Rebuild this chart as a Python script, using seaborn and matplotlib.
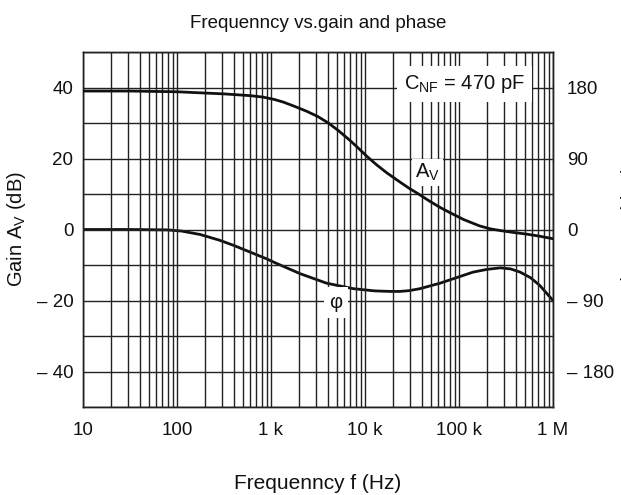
import numpy as np
import pandas as pd
import matplotlib
matplotlib.use("Agg")
import matplotlib.pyplot as plt
import matplotlib.ticker as mticker
import seaborn as sns

# ---- data (log10 of frequency in Hz) ----
gain_logf = [1.0, 1.5, 2.0, 2.245, 2.5, 2.78, 2.915, 3.04, 3.13, 3.25, 3.38,
             3.50, 3.61, 3.72, 3.84, 3.93, 4.02, 4.12, 4.23, 4.37, 4.47, 4.57,
             4.68, 4.80, 4.90, 5.05, 5.22, 5.33, 5.44, 5.57, 5.72, 5.86, 6.0]
gain_db = [39.0, 39.0, 38.8, 38.5, 38.2, 37.7, 37.3, 36.6, 35.9, 34.7, 33.3,
           31.8, 30.0, 27.8, 25.1, 22.9, 20.6, 18.3, 16.0, 13.4, 11.6, 10.0,
           8.1, 6.2, 4.8, 2.8, 1.0, 0.2, -0.3, -0.8, -1.3, -1.9, -2.6]

phase_logf = [1.0, 1.5, 1.9, 2.05, 2.245, 2.45, 2.60, 2.95, 3.04, 3.31, 3.59,
              3.875, 4.10, 4.27, 4.37, 4.47, 4.585, 4.80, 4.90, 5.15, 5.30,
              5.44, 5.55, 5.65, 5.76, 5.86, 6.0]
phase_deg = [0.0, 0.0, -0.5, -2.0, -6.3, -13.5, -20.0, -37.0, -42.0, -56.0, -68.0,
             -75.0, -77.8, -78.5, -78.5, -77.5, -75.0, -68.0, -64.0, -54.0, -50.5,
             -48.6, -50.0, -54.0, -61.0, -71.0, -90.0]

x_ticks = [10, 100, 1e3, 1e4, 1e5, 1e6]
x_tick_labels = ["10", "100", "1 k", "10 k", "100 k", "1 M"]
gain_ticks = [-40, -20, 0, 20, 40]
gain_tick_labels = ["\u2013 40", "\u2013 20", "0", "20", "40"]
phase_ticks = [-180, -90, 0, 90, 180]
phase_tick_labels = ["\u2013 180", "\u2013 90", "0", "90", "180"]

gain_df = pd.DataFrame({"f": np.power(10.0, gain_logf), "gain": gain_db})
phase_df = pd.DataFrame({"f": np.power(10.0, phase_logf), "phase": phase_deg})

sns.set_theme(style="white")
plt.rcParams["font.family"] = ["Liberation Sans", "DejaVu Sans"]
plt.rcParams["mathtext.fontset"] = "custom"
plt.rcParams["mathtext.rm"] = "Liberation Sans"

fig = plt.figure(figsize=(6.21, 4.95), dpi=100)
ax = fig.add_axes([83 / 621, 1 - 407 / 495, 470 / 621, 355 / 495])
ax2 = ax.twinx()

ink = "#111111"

sns.lineplot(data=gain_df, x="f", y="gain", ax=ax, color=ink, lw=2.0, zorder=5)
sns.lineplot(data=phase_df, x="f", y="phase", ax=ax2, color=ink, lw=2.0, zorder=5)

ax.set_xscale("log")
ax.set_xlim(10, 1e6)
ax.set_ylim(-50, 50)
ax2.set_ylim(-225, 225)

ax.set_xticks(x_ticks)
ax.set_xticklabels(x_tick_labels)
ax.xaxis.set_minor_locator(mticker.LogLocator(base=10, subs=np.arange(2, 10)))
ax.xaxis.set_minor_formatter(mticker.NullFormatter())
ax.set_yticks(gain_ticks)
ax.set_yticklabels(gain_tick_labels)
ax.yaxis.set_minor_locator(mticker.MultipleLocator(10))
ax2.set_yticks(phase_ticks)
ax2.set_yticklabels(phase_tick_labels)

ax.grid(True, which="both", axis="both", color="#222222", lw=1.0)
ax.set_axisbelow(True)

ax.tick_params(axis="both", which="both", length=0, labelsize=13.5, colors=ink)
ax.tick_params(axis="x", pad=11)
ax.tick_params(axis="y", pad=7)
ax2.tick_params(axis="y", length=0, labelsize=13.5, pad=10, colors=ink)

for a in (ax, ax2):
    for s in a.spines.values():
        s.set_color("#222222")
        s.set_linewidth(1.0)

ax.set_xlabel("Frequenncy f (Hz)", fontsize=15, labelpad=25, color=ink)
ax.set_ylabel(r"Gain A$_{\mathregular{V}}$ (dB)", fontsize=14.5, labelpad=6, color=ink)
ax2.set_ylabel("Phase \u03c6 (deg)", fontsize=14.5, labelpad=5, color=ink)
ax.set_title("Frequenncy vs.gain and phase", fontsize=13.5, pad=17, color=ink)

ax.text(1.15e5, 41.0, r"C$_{\mathregular{NF}}$ = 470 pF", fontsize=14.5, ha="center",
        va="center", bbox=dict(facecolor="white", edgecolor="none", pad=5), zorder=6,
        color=ink)
ax.text(4.6e4, 16.0, r"A$_{\mathregular{V}}$", fontsize=14.5, ha="center", va="center",
        bbox=dict(facecolor="white", edgecolor="none", pad=2), zorder=6, color=ink)
ax.text(4.9e3, -20.6, "\u03c6", fontsize=14.5, ha="center", va="center",
        bbox=dict(facecolor="white", edgecolor="none", pad=4), zorder=6, color=ink)

ax.set_zorder(ax2.get_zorder() + 1)
ax.patch.set_visible(False)

fig.savefig("out.png", dpi=100)
